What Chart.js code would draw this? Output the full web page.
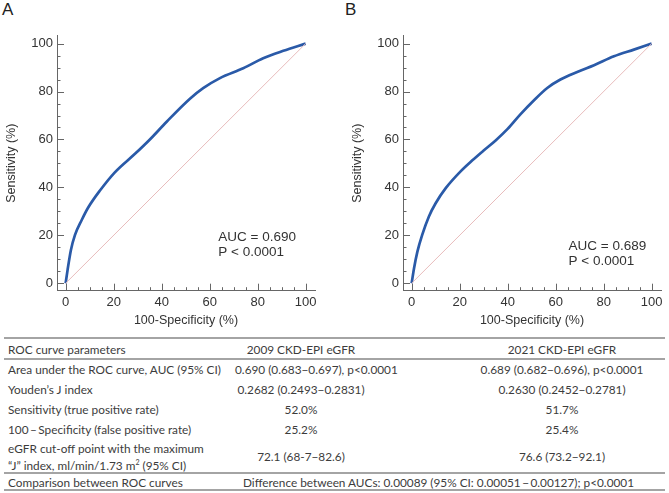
<!DOCTYPE html>
<html>
<head>
<meta charset="utf-8">
<script src="https://cdn.jsdelivr.net/npm/chart.js@4"></script>
<style>
  body { margin: 0; width: 669px; height: 493px; background: #fff; position: relative; overflow: hidden;
         font-family: "Liberation Sans", Arial, sans-serif; }
  .panel { position: absolute; top: 0; width: 323px; height: 335px; }
  .letter { position: absolute; top: 0; font-size: 17px; color: #222; }
  .rule { position: absolute; left: 4px; width: 661px; background: #a4a4a4; }
  table { position: absolute; top: 339px; left: 0; width: 669px; border-collapse: collapse; table-layout: fixed;
          font-family: Lato, sans-serif; font-size: 11.8px; color: #3c3c3c; }
  td { padding: 0 0 0 8px; height: 20px; white-space: nowrap; line-height: 17px; }
  td.c { text-align: center; padding: 0; }
  td.c3 { text-align: center; padding: 0 0 0 88px; }
  tr.tall td { height: 35px; }
  tr.cmp td { height: 15px; }
  sup { font-size: 7px; line-height: 0; }
</style>
</head>
<body>
<div class="letter" style="left:2px">A</div>
<div class="letter" style="left:345px">B</div>
<div class="panel" style="left:0"><canvas id="rocA"></canvas></div>
<div class="panel" style="left:346px"><canvas id="rocB"></canvas></div>
<div class="rule" style="top:337px;height:2px"></div>
<div class="rule" style="top:358px;height:1.5px"></div>
<div class="rule" style="top:472px;height:2px"></div>
<div class="rule" style="top:489px;height:2px"></div>
<table id="params">
  <colgroup><col style="width:235px"><col style="width:132px"><col style="width:302px"></colgroup>
</table>

<script>
// 100-Specificity (%) and Sensitivity (%)
const fprA = [0, 0.8, 2.2, 3.9, 6.7, 9.4, 14.3, 20.5, 28.9, 35.1, 42.1, 51.8, 57.3, 64.3, 74, 82.3, 90.7, 100];
const sensA = [0, 5.5, 13.9, 20.2, 26.4, 31.6, 38.7, 46.3, 54.0, 60.0, 67.4, 77.0, 81.4, 85.6, 89.7, 93.9, 97, 100];
const fprB = [0, 1, 2.4, 4.4, 7.2, 10, 14.2, 20.4, 25.3, 30, 35, 40, 45.4, 51, 56.5, 62, 69, 76, 84.3, 92.6, 100];
const sensB = [0, 6.3, 13.2, 20.2, 27.9, 33.4, 39.7, 46.7, 51.3, 55.4, 59.6, 64.4, 70.6, 76.4, 81.5, 85, 88.2, 91, 94.7, 97.5, 100];
const diagonal = [0, 100];

const majorTicks = [0, 20, 40, 60, 80, 100];
const minorStep = 5;

const aucTextA = ["AUC = 0.690", "P < 0.0001"];
const aucTextB = ["AUC = 0.689", "P < 0.0001"];

const tableHead = ["ROC curve parameters", "2009 CKD-EPI eGFR", "2021 CKD-EPI eGFR"];
const tableRows = [
  ["Area under the ROC curve, AUC (95% CI)", "0.690 (0.683\u22120.697), p<0.0001", "0.689 (0.682\u22120.696), p<0.0001"],
  ["Youden\u2019s J index", "0.2682 (0.2493\u22120.2831)", "0.2630 (0.2452\u22120.2781)"],
  ["Sensitivity (true positive rate)", "52.0%", "51.7%"],
  ["100\u2009\u2013\u2009Specificity (false positive rate)", "25.2%", "25.4%"],
  ["eGFR cut-off point with the maximum<br>\u201cJ\u201d index, ml/min/1.73 m<sup>2</sup> (95% CI)", "72.1 (68-7\u221282.6)", "76.6 (73.2\u221292.1)"]
];
const comparison = ["Comparison between ROC curves", "Difference between AUCs: 0.00089 (95% CI: 0.00051\u2009\u2212\u20090.00127); p<0.0001"];

const axisColor = "#666";
const textColor = "#333";
const curveColor = "#2a5aa8";
const diagColor = "#e8bcbc";

// ticks pointing inward, longer on the labelled values
const innerTicks = {
  id: "innerTicks",
  afterDraw(chart) {
    const { ctx } = chart;
    const x = chart.scales.x;
    const y = chart.scales.y;
    ctx.save();
    ctx.strokeStyle = axisColor;
    ctx.lineWidth = 1;
    for (let v = 0; v <= 100; v += minorStep) {
      const len = majorTicks.includes(v) ? 7 : 3.5;
      const px = Math.round(x.getPixelForValue(v)) + 0.5;
      ctx.beginPath();
      ctx.moveTo(px, x.top);
      ctx.lineTo(px, x.top - len);
      ctx.stroke();
      const py = Math.round(y.getPixelForValue(v)) + 0.5;
      ctx.beginPath();
      ctx.moveTo(y.right, py);
      ctx.lineTo(y.right + len, py);
      ctx.stroke();
    }
    const note = chart.options.plugins.innerTicks;
    ctx.fillStyle = textColor;
    ctx.font = "13.5px 'Liberation Sans', Arial, sans-serif";
    ctx.textBaseline = "middle";
    note.lines.forEach((t, i) => {
      ctx.fillText(t, x.getPixelForValue(note.at[0]), y.getPixelForValue(note.at[1]) + i * 14.6);
    });
    ctx.restore();
  }
};

function makeRoc(id, fpr, sens, lines, at) {
  const font = { family: "'Liberation Sans', Arial, sans-serif", size: 13 };
  return new Chart(document.getElementById(id), {
    type: "scatter",
    data: {
      datasets: [
        {
          data: diagonal.map((v) => ({ x: v, y: v })),
          showLine: true,
          borderColor: diagColor,
          borderWidth: 1,
          pointRadius: 0,
        },
        {
          data: fpr.map((v, i) => ({ x: v, y: sens[i] })),
          showLine: true,
          borderColor: curveColor,
          borderWidth: 2.7,
          pointRadius: 0,
          cubicInterpolationMode: "monotone",
        },
      ],
    },
    options: {
      responsive: true,
      maintainAspectRatio: false,
      animation: false,
      layout: { padding: { top: 35.7, right: 8, left: 0, bottom: 0 } },
      plugins: {
        legend: { display: false },
        tooltip: { enabled: false },
        innerTicks: { lines: lines, at: at },
      },
      scales: {
        x: {
          type: "linear",
          min: -3.6,
          max: 103.9,
          afterBuildTicks: (s) => { s.ticks = majorTicks.map((v) => ({ value: v })); },
          afterFit: (s) => { s.height = 44.3; },
          grid: { display: true, drawOnChartArea: false, drawTicks: false },
          border: { display: true, color: axisColor, width: 1 },
          ticks: { color: textColor, font: font, padding: 4, autoSkip: false, maxRotation: 0 },
          title: { display: true, text: "100-Specificity (%)", color: textColor,
                   font: { family: font.family, size: 12.5 }, padding: { top: 0, bottom: 7 } },
        },
        y: {
          type: "linear",
          min: -3.1,
          max: 103.3,
          afterBuildTicks: (s) => { s.ticks = majorTicks.map((v) => ({ value: v })); },
          afterFit: (s) => { s.width = 57; },
          grid: { display: true, drawOnChartArea: false, drawTicks: false },
          border: { display: true, color: axisColor, width: 1 },
          ticks: { color: textColor, font: font, padding: 4, autoSkip: false },
          title: { display: true, text: "Sensitivity (%)", color: textColor,
                   font: { family: font.family, size: 12.5 }, padding: { top: 4, bottom: 0 } },
        },
      },
    },
    plugins: [innerTicks],
  });
}

makeRoc("rocA", fprA, sensA, aucTextA, [63.6, 19]);
makeRoc("rocB", fprB, sensB, aucTextB, [65.4, 15.3]);

// parameter table under the curves
const table = document.getElementById("params");
let html = `<tr><td>${tableHead[0]}</td><td class="c">${tableHead[1]}</td><td class="c3">${tableHead[2]}</td></tr>`;
tableRows.forEach((r, i) => {
  const cls = i === tableRows.length - 1 ? ' class="tall"' : "";
  html += `<tr${cls}><td>${r[0]}</td><td class="c">${r[1]}</td><td class="c3">${r[2]}</td></tr>`;
});
html += `<tr class="cmp"><td>${comparison[0]}</td><td colspan="2" style="padding-left:8px">${comparison[1]}</td></tr>`;
table.insertAdjacentHTML("beforeend", html);
</script>
</body>
</html>
